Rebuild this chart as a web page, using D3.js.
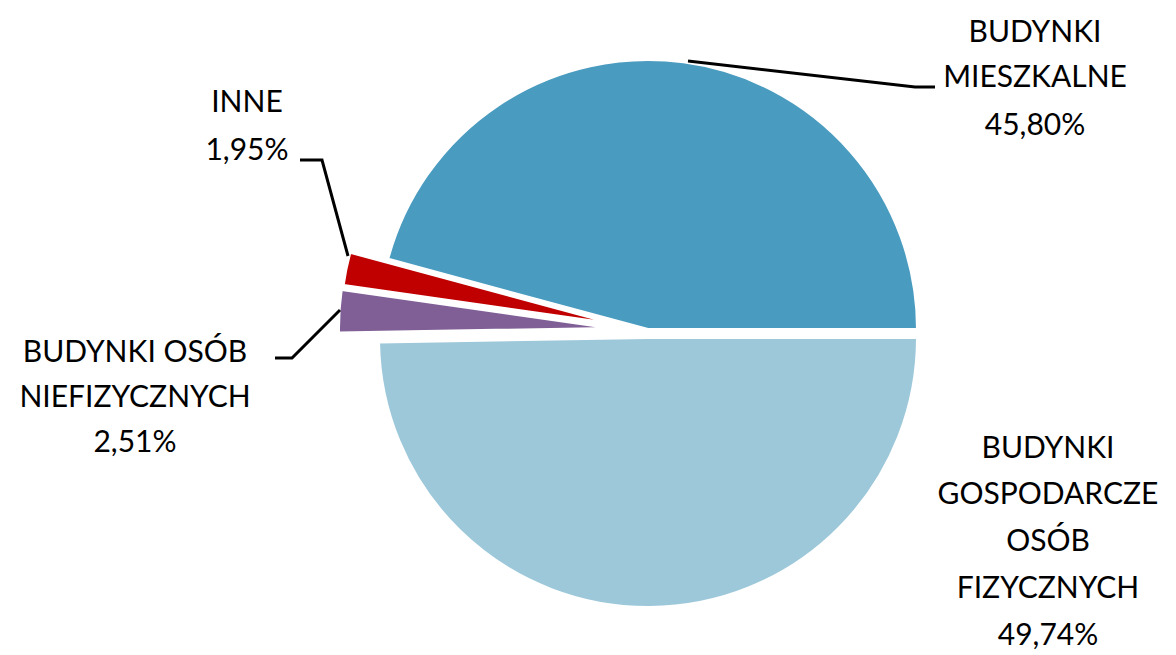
<!DOCTYPE html>
<html><head><meta charset="utf-8">
<script src="https://cdn.jsdelivr.net/npm/d3@7"></script>
<style>body{margin:0;background:#fff}</style>
</head><body>
<svg id="chart" width="1176" height="655"></svg>
<script>
// values in percent
var categories = ["BUDYNKI GOSPODARCZE OSÓB FIZYCZNYCH", "BUDYNKI OSÓB NIEFIZYCZNYCH", "INNE", "BUDYNKI MIESZKALNE"]
var values = [49.74, 2.51, 1.95, 45.80]
var labels = ["49,74%", "2,51%", "1,95%", "45,80%"]
var colors = ["#9dc8da", "#7f5f96", "#c00000", "#4a9bc0"]
var offsets = [[0, 3], [-40, -7], [-38, -12], [0, -6]]

var svg = d3.select("#chart")
var cx = 648, cy = 335, r = 269

var pie = d3.pie().sort(null).value(d => d)
  .startAngle(Math.PI / 2).endAngle(Math.PI / 2 + 2 * Math.PI)
var arc = d3.arc().innerRadius(0).outerRadius(r)

svg.selectAll("path.slice")
  .data(pie(values))
  .enter().append("path")
  .attr("class", "slice")
  .attr("d", arc)
  .attr("fill", (d, i) => colors[i])
  .attr("stroke", "#fff")
  .attr("stroke-width", 2)
  .attr("transform", (d, i) => `translate(${cx + offsets[i][0]},${cy + offsets[i][1]})`)

// leader lines
var leaders = [
  [[688, 61], [915, 87], [935, 87]],
  [[348, 256], [322, 160], [300, 160]],
  [[340, 310], [292, 358], [275, 358]]
]
leaders.forEach(pts => {
  svg.append("path")
    .attr("d", d3.line()(pts))
    .attr("fill", "none")
    .attr("stroke", "#000")
    .attr("stroke-width", 3)
})

var textBlocks = [
  {x: 1048, y: [448, 494, 541, 588, 635], lines: ["BUDYNKI", "GOSPODARCZE", "OSÓB", "FIZYCZNYCH", labels[0]]},
  {x: 135, y: [352, 397, 442], lines: ["BUDYNKI OSÓB", "NIEFIZYCZNYCH", labels[1]]},
  {x: 247, y: [102, 150], lines: ["INNE", labels[2]]},
  {x: 1035, y: [32, 77, 125], lines: ["BUDYNKI", "MIESZKALNE", labels[3]]}
]
textBlocks.forEach(b => {
  b.lines.forEach((t, i) => {
    svg.append("text")
      .attr("x", b.x).attr("y", b.y[i] + 10)
      .attr("text-anchor", "middle")
      .style("font-family", "Lato, 'Open Sans', sans-serif")
      .style("font-size", "30px")
      .attr("fill", "#000")
      .text(t)
  })
})
</script>
</body></html>
